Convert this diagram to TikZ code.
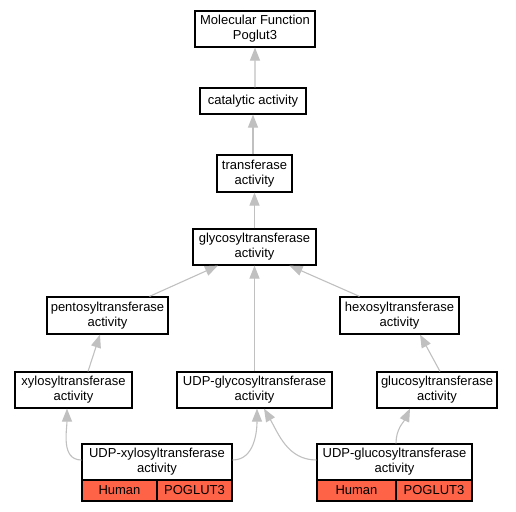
\documentclass[tikz,border=0pt]{standalone}
\usepackage{fontspec}
\setmainfont{Liberation Sans}
\usetikzlibrary{arrows.meta}
\definecolor{edgegray}{HTML}{C0C0C0}
\definecolor{cellred}{HTML}{FF6347}
\begin{document}
\begin{tikzpicture}[x=1bp,y=1bp,
  term/.style={draw=black,line width=1.2bp,fill=white,inner sep=0pt,align=center,
    font=\fontsize{13bp}{15bp}\selectfont},
  cell/.style={draw=black,line width=1.2bp,fill=cellred,inner sep=0pt,
    minimum height=21bp,font=\fontsize{13bp}{15bp}\selectfont},
  isa/.style={draw=edgegray,line width=1.1bp,-{Triangle[length=13bp,width=10bp]},fill=none},
]
\useasboundingbox (0,0) rectangle (516,512);
% terms
\node[term,minimum width=120bp,minimum height=36bp] (mf) at (255,483) {Molecular Function\\Poglut3};
\node[term,minimum width=106bp,minimum height=26bp] (cat) at (253,411) {catalytic activity};
\node[term,minimum width=75bp,minimum height=37bp] (tr) at (254.5,338.5) {transferase\\activity};
\node[term,minimum width=123bp,minimum height=36bp] (gly) at (254.5,265) {glycosyltransferase\\activity};
\node[term,minimum width=121bp,minimum height=37bp] (pent) at (107.5,196.5) {pentosyltransferase\\activity};
\node[term,minimum width=119bp,minimum height=37bp] (hex) at (399.5,196.5) {hexosyltransferase\\activity};
\node[term,minimum width=117bp,minimum height=36bp] (xyl) at (73.5,122) {xylosyltransferase\\activity};
\node[term,minimum width=155bp,minimum height=36bp] (udpg) at (254.5,122) {UDP-glycosyltransferase\\activity};
\node[term,minimum width=120bp,minimum height=36bp] (glc) at (437,122) {glucosyltransferase\\activity};
% annotated terms
\node[term,minimum width=150bp,minimum height=36bp] (udpx) at (157,50) {UDP-xylosyltransferase\\activity};
\node[cell,minimum width=75bp] (udpxh) at (119.5,21.5) {Human};
\node[cell,minimum width=75bp] (udpxp) at (194.5,21.5) {POGLUT3};
\node[term,minimum width=155bp,minimum height=36bp] (udpc) at (394.5,50) {UDP-glucosyltransferase\\activity};
\node[cell,minimum width=79bp] (udpch) at (356.5,21.5) {Human};
\node[cell,minimum width=76bp] (udpcp) at (434,21.5) {POGLUT3};
% edges
\draw[isa] ([xshift=2bp]cat.north) -- (mf.south);
\draw[isa] ([xshift=-1.5bp]tr.north) -- ([xshift=-1.5bp]cat.south -| tr.north);
\draw[isa] (gly.north) -- (tr.south);
\draw[isa] ([xshift=42bp]pent.north) -- ([xshift=-36.5bp]gly.south);
\draw[isa] ([xshift=-40bp]hex.north) -- ([xshift=35bp]gly.south);
\draw[isa] (udpg.north) -- (gly.south);
\draw[isa] ([xshift=14.5bp]xyl.north) -- ([xshift=-7.5bp]pent.south);
\draw[isa] ([xshift=3bp]glc.north) -- ([xshift=20.5bp]hex.south);
\draw[isa] ([yshift=2bp]udpx.west) to[out=180,in=-90] ([xshift=-6.5bp]xyl.south);
\draw[isa] ([yshift=2bp]udpx.east) to[out=0,in=-90] ([xshift=2.5bp]udpg.south);
\draw[isa] ([yshift=2bp]udpc.west) to[out=180,in=-60] ([xshift=9.5bp]udpg.south);
\draw[isa] ([xshift=1.5bp]udpc.north) to[out=90,in=-115] ([xshift=-27bp]glc.south);
\end{tikzpicture}
\end{document}
